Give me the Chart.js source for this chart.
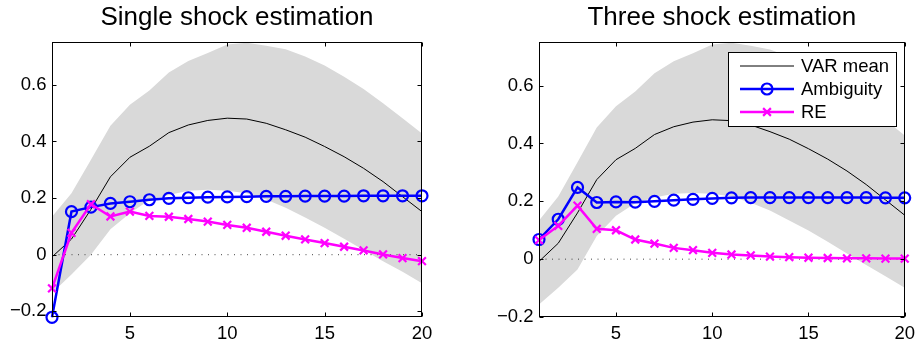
<!DOCTYPE html>
<html lang="en">
<head>
<meta charset="UTF-8">
<title>Single and three shock estimation</title>
<script src="https://cdn.jsdelivr.net/npm/chart.js"></script>
<style>
  body { margin: 0; background: #fff; width: 921px; height: 346px; overflow: hidden; position: relative; }
  .panel { position: absolute; top: 0; height: 346px; }
  #left { left: 0; width: 460px; }
  #right { left: 460px; width: 461px; }
</style>
</head>
<body>
<div class="panel" id="left"><canvas id="chart-single" width="460" height="346"></canvas></div>
<div class="panel" id="right"><canvas id="chart-three" width="461" height="346"></canvas></div>

<script>
// horizons and tick labels
const horizons = [1, 2, 3, 4, 5, 6, 7, 8, 9, 10, 11, 12, 13, 14, 15, 16, 17, 18, 19, 20];
const xTicks = [5, 10, 15, 20];
const yTicks = [-0.2, 0, 0.2, 0.4, 0.6];
const seriesLabels = ['VAR mean', 'Ambiguity', 'RE'];
const panelTitles = ['Single shock estimation', 'Three shock estimation'];

// VAR response and its band
const varMean = [-0.008, 0.055, 0.16, 0.275, 0.344, 0.383, 0.431, 0.458, 0.474, 0.482,
                 0.479, 0.464, 0.441, 0.415, 0.382, 0.346, 0.305, 0.258, 0.205, 0.152];
const bandUpper = [0.134, 0.217, 0.335, 0.455, 0.529, 0.58, 0.643, 0.684, 0.712, 0.742,
                   0.748, 0.738, 0.725, 0.7, 0.668, 0.628, 0.585, 0.535, 0.482, 0.428];
const bandLowerSingle = [-0.135, -0.07, 0.0, 0.09, 0.146, 0.193, 0.211, 0.226, 0.229, 0.226,
                         0.217, 0.195, 0.166, 0.131, 0.095, 0.056, 0.017, -0.023, -0.06, -0.101];
const bandLowerThree = [-0.157, -0.099, -0.036, 0.08, 0.15, 0.193, 0.213, 0.226, 0.229, 0.226,
                        0.217, 0.195, 0.168, 0.134, 0.099, 0.06, 0.02, -0.02, -0.059, -0.099];

// model responses
const ambiguitySingle = [-0.221, 0.152, 0.168, 0.181, 0.187, 0.194, 0.199, 0.201, 0.203, 0.204,
                         0.205, 0.206, 0.206, 0.207, 0.207, 0.207, 0.208, 0.208, 0.208, 0.208];
const reSingle = [-0.119, 0.077, 0.178, 0.135, 0.152, 0.137, 0.134, 0.126, 0.117, 0.105,
                  0.095, 0.081, 0.067, 0.054, 0.041, 0.028, 0.015, 0.001, -0.012, -0.023];
const ambiguityThree = [0.068, 0.138, 0.248, 0.196, 0.198, 0.197, 0.2, 0.204, 0.207, 0.21,
                        0.212, 0.213, 0.213, 0.213, 0.213, 0.213, 0.213, 0.213, 0.212, 0.212];
const reThree = [0.066, 0.115, 0.185, 0.105, 0.1, 0.068, 0.054, 0.039, 0.031, 0.022,
                 0.016, 0.013, 0.009, 0.007, 0.005, 0.004, 0.003, 0.003, 0.002, 0.002];
const zeroLine = horizons.map(() => 0);

Chart.defaults.font.family = '"Liberation Sans", Arial, Helvetica, sans-serif';
Chart.defaults.color = '#000';

function toPoints(values) {
    return horizons.map((h, i) => ({ x: h, y: values[i] }));
}

// box round the axes with inward ticks, as matlab draws it
const matlabAxes = {
    id: 'matlabAxes',
    afterDatasetsDraw(chart) {
        const ctx = chart.ctx;
        const a = chart.chartArea;
        const l = Math.round(a.left) + 0.5, r = Math.round(a.right) - 0.5;
        const t = Math.round(a.top) + 0.5, b = Math.round(a.bottom) - 0.5;
        const len = 4;
        ctx.save();
        ctx.strokeStyle = '#000';
        ctx.lineWidth = 1;
        ctx.strokeRect(l, t, r - l, b - t);
        ctx.beginPath();
        chart.scales.x.ticks.forEach(tk => {
            const px = Math.round(chart.scales.x.getPixelForValue(tk.value)) + 0.5;
            ctx.moveTo(px, b); ctx.lineTo(px, b - len);
            ctx.moveTo(px, t); ctx.lineTo(px, t + len);
        });
        chart.scales.y.ticks.forEach(tk => {
            const py = Math.round(chart.scales.y.getPixelForValue(tk.value)) + 0.5;
            ctx.moveTo(l, py); ctx.lineTo(l + len, py);
            ctx.moveTo(r, py); ctx.lineTo(r - len, py);
        });
        ctx.stroke();
        ctx.restore();
    }
};

// boxed legend in the upper right corner of the plot
const boxLegend = {
    id: 'boxLegend',
    afterDraw(chart, args, opts) {
        if (!opts.show) return;
        const ctx = chart.ctx;
        const a = chart.chartArea;
        const w = 168, h = 74;
        const left = Math.round(a.right - 9 - w), top = Math.round(a.top + 10);
        ctx.save();
        ctx.fillStyle = '#fff';
        ctx.fillRect(left, top, w, h);
        ctx.strokeStyle = '#000';
        ctx.lineWidth = 1;
        ctx.strokeRect(left + 0.5, top + 0.5, w, h);
        seriesLabels.forEach((name, i) => {
            const ds = chart.data.datasets.find(d => d.label === name);
            const y = top + 14 + i * 23;
            ctx.strokeStyle = ds.borderColor;
            ctx.lineWidth = ds.borderWidth;
            ctx.beginPath();
            ctx.moveTo(left + 12, y);
            ctx.lineTo(left + 66, y);
            ctx.stroke();
            const cx = left + 39;
            if (ds.pointRadius > 0) {
                const rad = ds.pointRadius;
                ctx.lineWidth = ds.pointBorderWidth;
                ctx.beginPath();
                if (ds.pointStyle === 'circle') {
                    ctx.arc(cx, y, rad, 0, Math.PI * 2);
                } else {
                    const d = rad * Math.SQRT1_2;
                    ctx.moveTo(cx - d, y - d); ctx.lineTo(cx + d, y + d);
                    ctx.moveTo(cx - d, y + d); ctx.lineTo(cx + d, y - d);
                }
                ctx.stroke();
            }
            ctx.fillStyle = '#000';
            ctx.font = '18.5px "Liberation Sans", Arial, sans-serif';
            ctx.textBaseline = 'middle';
            ctx.textAlign = 'left';
            ctx.fillText(name, left + 73, y + 1);
        });
        ctx.restore();
    }
};

function formatY(v) {
    if (Math.abs(v) < 1e-9) return '0';
    return v < 0 ? '\u2212' + Math.abs(v).toFixed(1) : v.toFixed(1);
}

function makeChart(canvasId, title, bandLower, ambiguity, re, yMin, areaLeft, areaRight, showLegend) {
    const canvas = document.getElementById(canvasId);
    const ctx = canvas.getContext('2d');
    return new Chart(ctx, {
        type: 'line',
        data: {
            datasets: [
                {
                    label: 'RE', data: toPoints(re),
                    borderColor: '#ff00ff', borderWidth: 2.5,
                    pointStyle: 'crossRot', pointRadius: 5.5, pointBorderWidth: 2.2,
                    pointBorderColor: '#ff00ff', pointBackgroundColor: '#ff00ff',
                    fill: false, clip: false, order: 0
                },
                {
                    label: 'Ambiguity', data: toPoints(ambiguity),
                    borderColor: '#0000ff', borderWidth: 2.5,
                    pointStyle: 'circle', pointRadius: 5.5, pointBorderWidth: 2.2,
                    pointBorderColor: '#0000ff', pointBackgroundColor: 'rgba(0,0,0,0)',
                    fill: false, clip: false, order: 1
                },
                {
                    label: 'VAR mean', data: toPoints(varMean),
                    borderColor: '#000', borderWidth: 1, pointRadius: 0,
                    fill: false, order: 2
                },
                {
                    label: 'zero', data: toPoints(zeroLine),
                    borderColor: '#444', borderWidth: 1, borderDash: [1, 5.5], pointRadius: 0,
                    fill: false, order: 3
                },
                {
                    label: 'band upper', data: toPoints(bandUpper),
                    borderColor: 'rgba(0,0,0,0)', borderWidth: 0, pointRadius: 0,
                    backgroundColor: '#d9d9d9', fill: '+1', order: 4
                },
                {
                    label: 'band lower', data: toPoints(bandLower),
                    borderColor: 'rgba(0,0,0,0)', borderWidth: 0, pointRadius: 0,
                    fill: false, order: 5
                }
            ]
        },
        options: {
            responsive: false,
            animation: false,
            events: [],
            layout: { padding: { left: 0, right: canvas.width - areaRight, top: 0, bottom: 0 } },
            plugins: {
                legend: { display: false },
                tooltip: { enabled: false },
                filler: { drawTime: 'beforeDatasetsDraw' },
                title: {
                    display: true, text: title, fullSize: false, color: '#000',
                    font: { size: 26, weight: 'normal', lineHeight: 1.2 },
                    padding: { top: 2, bottom: 8.8 }
                },
                boxLegend: { show: showLegend }
            },
            scales: {
                x: {
                    type: 'linear', min: 1, max: 20,
                    grid: { display: false, drawTicks: false },
                    border: { display: false },
                    ticks: { font: { size: 18.5 }, padding: 6, maxRotation: 0, color: '#000' },
                    afterBuildTicks: s => { s.ticks = xTicks.map(v => ({ value: v })); },
                    afterFit: s => { s.height = 29; }
                },
                y: {
                    type: 'linear', min: yMin, max: 0.751,
                    grid: { display: false, drawTicks: false },
                    border: { display: false },
                    ticks: { font: { size: 18.5 }, padding: 5.5, color: '#000', callback: formatY },
                    afterBuildTicks: s => { s.ticks = yTicks.map(v => ({ value: v })); },
                    afterFit: s => { s.width = areaLeft; }
                }
            }
        },
        plugins: [matlabAxes, boxLegend]
    });
}

makeChart('chart-single', panelTitles[0], bandLowerSingle, ambiguitySingle, reSingle, -0.22, 52, 422, false);
makeChart('chart-three', panelTitles[1], bandLowerThree, ambiguityThree, reThree, -0.2, 79, 449, true);
</script>
</body>
</html>
